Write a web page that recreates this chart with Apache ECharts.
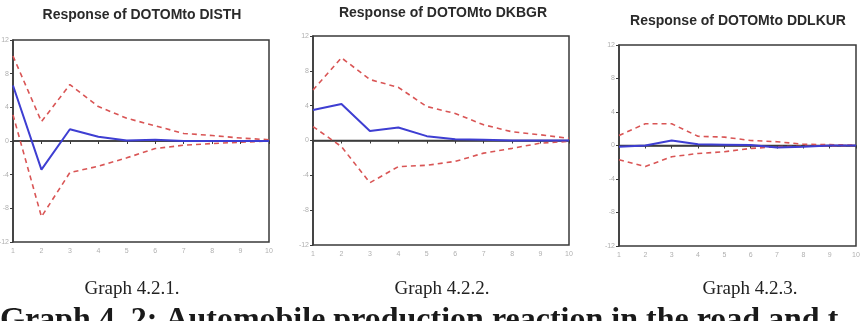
<!DOCTYPE html>
<html><head><meta charset="utf-8">
<script src="https://cdn.jsdelivr.net/npm/echarts@6/dist/echarts.min.js"></script>
<style>html,body{margin:0;padding:0;background:#fff}#c{width:860px;height:321px}</style>
</head><body><div id="c"></div>
<script>
const periods = ['1','2','3','4','5','6','7','8','9','10'];
const yTicks = [-12, 12, 4];
const titles = ['Response of DOTOMto DISTH', 'Response of DOTOMto DKBGR', 'Response of DOTOMto DDLKUR'];
const subLabels = ['Graph 4.2.1.', 'Graph 4.2.2.', 'Graph 4.2.3.'];
const caption = 'Graph 4. 2: Automobile production reaction in the road and t';

const resp1  = [6.6, -3.4, 1.4, 0.5, 0.05, 0.15, 0.0, 0.0, 0.0, 0.0];
const upper1 = [10.1, 2.3, 6.7, 4.1, 2.7, 1.8, 0.9, 0.65, 0.35, 0.15];
const lower1 = [3.1, -9.0, -3.75, -3.0, -2.0, -0.9, -0.5, -0.3, -0.15, 0.0];

const resp2  = [3.5, 4.2, 1.1, 1.5, 0.5, 0.15, 0.1, 0.0, 0.0, 0.0];
const upper2 = [5.8, 9.5, 7.0, 6.1, 3.9, 3.1, 1.8, 1.0, 0.65, 0.25];
const lower2 = [1.6, -0.7, -4.85, -3.0, -2.85, -2.4, -1.45, -0.9, -0.3, -0.1];

const resp3  = [-0.15, 0.0, 0.6, 0.15, 0.1, 0.05, -0.25, -0.15, 0.0, 0.0];
const upper3 = [1.2, 2.6, 2.6, 1.1, 1.0, 0.6, 0.45, 0.15, 0.1, 0.05];
const lower3 = [-1.7, -2.5, -1.35, -0.95, -0.75, -0.35, -0.15, -0.1, -0.05, 0.0];

const zeros = [0,0,0,0,0,0,0,0,0,0];

const panels = [
  {resp: resp1, upper: upper1, lower: lower1},
  {resp: resp2, upper: upper2, lower: lower2},
  {resp: resp3, upper: upper3, lower: lower3}
];
const grids = [
  {left: 13, right: 591, top: 40, bottom: 79},
  {left: 313, right: 291, top: 36, bottom: 76},
  {left: 619, right: 4, top: 45, bottom: 75}
];
const titlePos = [[142, 15], [443, 13], [738, 21]];
const subPos = [[132, 289], [442, 289], [750, 289]];

const chart = echarts.init(document.getElementById('c'));
const option = {
  animation: false,
  backgroundColor: '#fff',
  grid: grids.map(g => Object.assign({show: true, borderColor: '#3a3a3a', borderWidth: 1.5, backgroundColor: '#fff', outerBoundsMode: 'none', containLabel: false}, g)),
  xAxis: grids.map((g, i) => ({
    type: 'category', gridIndex: i, data: periods, boundaryGap: false,
    axisLine: {show: true, lineStyle: {color: '#3a3a3a', width: 1.5}},
    axisTick: {show: true, alignWithLabel: true, length: 3, lineStyle: {color: '#3a3a3a'}},
    axisLabel: {color: '#b0b0b0', fontSize: 7, margin: 6, fontFamily: 'Liberation Sans'},
    splitLine: {show: false}
  })),
  yAxis: grids.map((g, i) => ({
    type: 'value', gridIndex: i, min: yTicks[0], max: yTicks[1], interval: yTicks[2],
    axisLine: {show: true, lineStyle: {color: '#3a3a3a', width: 1.5}},
    axisTick: {show: true, length: 3, lineStyle: {color: '#3a3a3a'}},
    axisLabel: {color: '#b0b0b0', fontSize: 7, margin: 4, fontFamily: 'Liberation Sans'},
    splitLine: {show: false}
  })),
  series: [],
  graphic: []
};
panels.forEach((p, i) => {
  option.series.push({type: 'line', xAxisIndex: i, yAxisIndex: i, data: zeros, symbol: 'none',
    lineStyle: {color: '#3c3c3c', width: 1.5}, z: 2});
  option.series.push({type: 'line', xAxisIndex: i, yAxisIndex: i, data: p.upper, symbol: 'none',
    lineStyle: {color: '#d95555', width: 1.6, type: [5, 4]}, z: 3});
  option.series.push({type: 'line', xAxisIndex: i, yAxisIndex: i, data: p.lower, symbol: 'none',
    lineStyle: {color: '#d95555', width: 1.6, type: [5, 4]}, z: 3});
  option.series.push({type: 'line', xAxisIndex: i, yAxisIndex: i, data: p.resp, symbol: 'none',
    lineStyle: {color: '#3e3ed2', width: 2}, z: 4});
  option.graphic.push({type: 'text', z: 10, x: titlePos[i][0], y: titlePos[i][1],
    style: {text: titles[i], font: 'bold 14px "Liberation Sans Narrow", "Liberation Sans"', fill: '#2a2a2a', textAlign: 'center', textVerticalAlign: 'middle'}});
  option.graphic.push({type: 'text', z: 10, x: subPos[i][0], y: subPos[i][1],
    style: {text: subLabels[i], font: '19px "Liberation Serif"', fill: '#222', textAlign: 'center', textVerticalAlign: 'middle'}});
});
option.graphic.push({type: 'text', z: 10, x: 0, y: 305,
  style: {text: caption, font: 'bold 32px "Liberation Serif"', fill: '#1a1a1a', textAlign: 'left', textVerticalAlign: 'top'}});
chart.setOption(option);
</script>
</body></html>
